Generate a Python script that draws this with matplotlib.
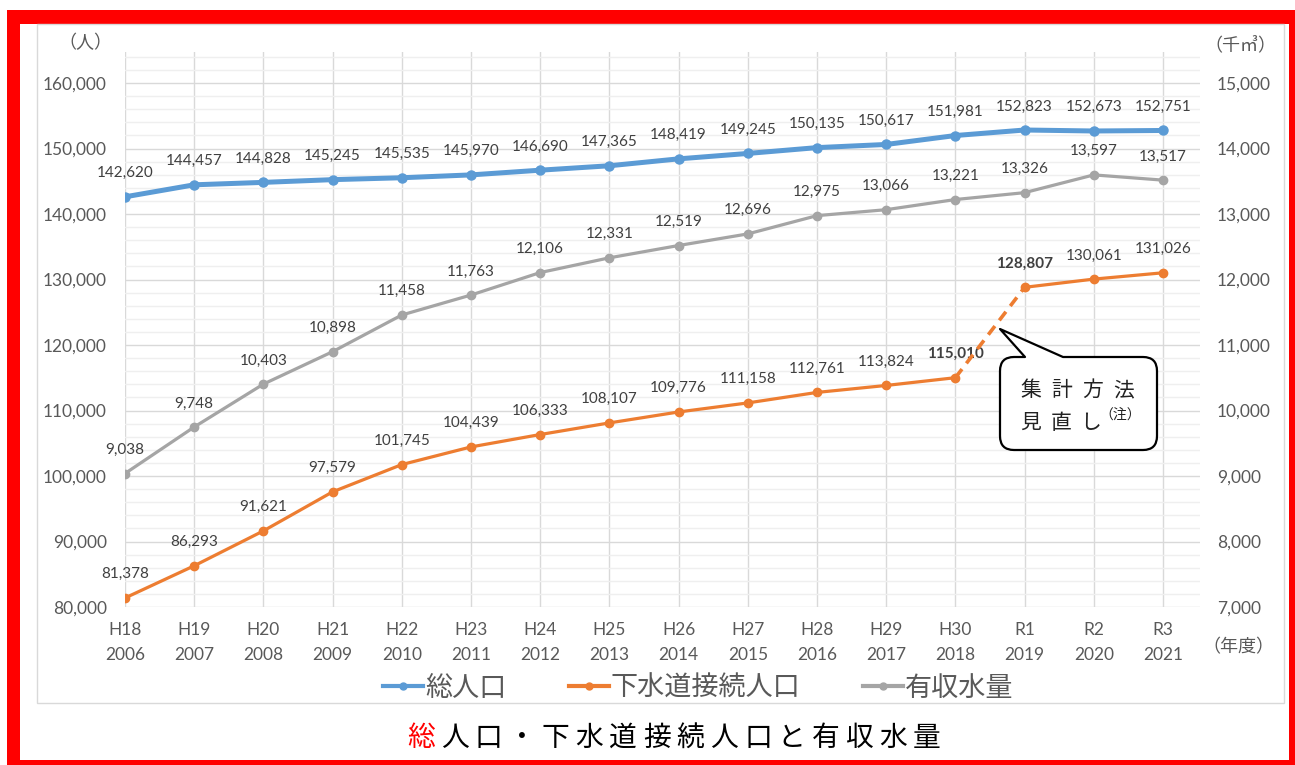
import matplotlib.pyplot as plt
from matplotlib.lines import Line2D
from matplotlib.patches import PathPatch, Rectangle
from matplotlib.path import Path
from matplotlib.ticker import FuncFormatter, MultipleLocator
from matplotlib.transforms import Affine2D

# Fiscal years: Japanese era label and western year
ERA_LABELS = ["H18", "H19", "H20", "H21", "H22", "H23", "H24", "H25",
              "H26", "H27", "H28", "H29", "H30", "R1", "R2", "R3"]
YEARS = [2006, 2007, 2008, 2009, 2010, 2011, 2012, 2013,
         2014, 2015, 2016, 2017, 2018, 2019, 2020, 2021]

# 総人口 (people, left axis)
TOTAL_POP = [142620, 144457, 144828, 145245, 145535, 145970, 146690, 147365,
             148419, 149245, 150135, 150617, 151981, 152823, 152673, 152751]
# 下水道接続人口 (people, left axis)
SEWER_POP = [81378, 86293, 91621, 97579, 101745, 104439, 106333, 108107,
             109776, 111158, 112761, 113824, 115010, 128807, 130061, 131026]
# 有収水量 (thousand m3, right axis)
WATER_VOL = [9038, 9748, 10403, 10898, 11458, 11763, 12106, 12331,
             12519, 12696, 12975, 13066, 13221, 13326, 13597, 13517]

SERIES_NAMES = ["総人口", "下水道接続人口", "有収水量"]
TITLE = "総人口・下水道接続人口と有収水量"
BREAK_INDEX = 12  # counting method changed between H30 and R1

BLUE = "#5B9BD5"
ORANGE = "#ED7D31"
GRAY = "#A5A5A5"
TEXT = "#595959"
LABEL = "#404040"
GRID = "#D9D9D9"
NUM_FONT = "Lato"
JP_FONT = ["Noto Sans CJK JP", "DejaVu Sans"]

W, H = 1295, 765
fig = plt.figure(figsize=(W / 100, H / 100), dpi=100)
fig.patch.set_facecolor("white")
# pixel coordinates, origin top-left
px = Affine2D().scale(1 / W, -1 / H).translate(0, 1) + fig.transFigure

# red frame and chart box
fig.add_artist(Rectangle((7, 10), W, H, transform=px, fc="red", ec="none", zorder=-10))
fig.add_artist(Rectangle((20, 24), 1269, 736, transform=px, fc="white", ec="none", zorder=-9))
fig.add_artist(Rectangle((37, 24), 1247, 679, transform=px, fc="none", ec=GRID,
                         lw=1, zorder=-8))

# plot area
x0, x1, y_top, y_bot = 125, 1200, 52, 607
step = (1163 - 125) / 15
ax = fig.add_axes([x0 / W, 1 - y_bot / H, (x1 - x0) / W, (y_bot - y_top) / H])
ax2 = ax.twinx()

xs = list(range(len(ERA_LABELS)))
ax.set_xlim(0, (x1 - x0) / step)
top_extra = (83 - y_top) / ((y_bot - 83) / 8)
ax.set_ylim(80000, 160000 + top_extra * 10000)
ax2.set_ylim(7000, 15000 + top_extra * 1000)

for a in (ax, ax2):
    for s in a.spines.values():
        s.set_visible(False)
    a.tick_params(length=0, which="both")

ax.yaxis.set_major_locator(MultipleLocator(10000))
ax.yaxis.set_minor_locator(MultipleLocator(2000))
ax2.yaxis.set_major_locator(MultipleLocator(1000))
ax.set_xticks(xs)
ax.grid(True, axis="x", color=GRID, lw=1)
ax.grid(True, axis="y", which="major", color=GRID, lw=1)
ax.grid(True, axis="y", which="minor", color="#EFEFEF", lw=1)
ax.set_axisbelow(True)

comma = FuncFormatter(lambda v, p: f"{v:,.0f}")
ax.yaxis.set_major_formatter(comma)
ax2.yaxis.set_major_formatter(comma)
ax.set_xticklabels([f"{e}\n{y}" for e, y in zip(ERA_LABELS, YEARS)],
                   fontsize=12.5, color=TEXT, family=NUM_FONT, linespacing=1.7)
ax.tick_params(axis="x", pad=11)
ax.tick_params(axis="y", labelsize=12.5, labelcolor=TEXT, pad=13)
ax2.tick_params(axis="y", labelsize=12.5, labelcolor=TEXT, pad=12)
for lab in ax.get_yticklabels() + ax2.get_yticklabels():
    lab.set_family(NUM_FONT)

# series
ax.plot(xs, TOTAL_POP, color=BLUE, lw=3.6, marker="o", ms=6.5, zorder=4)
ax.plot(xs[:BREAK_INDEX + 1], SEWER_POP[:BREAK_INDEX + 1], color=ORANGE, lw=2.3,
        marker="o", ms=6, zorder=4)
ax.plot(xs[BREAK_INDEX:BREAK_INDEX + 2], SEWER_POP[BREAK_INDEX:BREAK_INDEX + 2],
        color=ORANGE, lw=2.6, ls=(0, (3, 2)), zorder=4)
ax.plot(xs[BREAK_INDEX + 1:], SEWER_POP[BREAK_INDEX + 1:], color=ORANGE, lw=2.3,
        marker="o", ms=6, zorder=4)
ax2.plot(xs, WATER_VOL, color=GRAY, lw=2.3, marker="o", ms=6, zorder=4)

# data labels
label_kw = dict(textcoords="offset points", xytext=(0, 17), ha="center", va="center",
                fontsize=11, color=LABEL, family=NUM_FONT)
for x, v in zip(xs, TOTAL_POP):
    ax.annotate(f"{v:,}", (x, v), **label_kw)
for x, v in zip(xs, SEWER_POP):
    bold = x in (BREAK_INDEX, BREAK_INDEX + 1)
    ax.annotate(f"{v:,}", (x, v), fontweight="bold" if bold else "normal", **label_kw)
for x, v in zip(xs, WATER_VOL):
    ax2.annotate(f"{v:,}", (x, v), **label_kw)

# axis units
fig.text(85, 43, "（人）", transform=px, ha="center", va="center", fontsize=13,
         color=TEXT, family=JP_FONT)
fig.text(1240, 46, "（千㎥）", transform=px, ha="center", va="center", fontsize=13,
         color=TEXT, family=JP_FONT)
fig.text(1238, 647, "（年度）", transform=px, ha="center", va="center", fontsize=13,
         color=TEXT, family=JP_FONT)

# callout
L, R, T, B, r = 1000, 1157, 357, 450, 14
verts = [(L + r, T), (1025, T), (1000, 329), (1063, T), (R - r, T),
         (R, T), (R, T + r), (R, B - r), (R, B), (R - r, B), (L + r, B),
         (L, B), (L, B - r), (L, T + r), (L, T), (L + r, T), (L + r, T)]
codes = [Path.MOVETO, Path.LINETO, Path.LINETO, Path.LINETO, Path.LINETO,
         Path.CURVE3, Path.CURVE3, Path.LINETO, Path.CURVE3, Path.CURVE3, Path.LINETO,
         Path.CURVE3, Path.CURVE3, Path.LINETO, Path.CURVE3, Path.CURVE3, Path.CLOSEPOLY]
fig.add_artist(PathPatch(Path(verts, codes), transform=px, fc="white", ec="black",
                         lw=1.6, joinstyle="round", zorder=5))
for i, ch in enumerate("集計方法"):
    fig.text(1031 + i * 31, 390, ch, transform=px, ha="center", va="center",
             fontsize=15, color="#222222", family=JP_FONT, zorder=6)
for i, ch in enumerate("見直し"):
    fig.text(1031 + i * 30, 423, ch, transform=px, ha="center", va="center",
             fontsize=15, color="#222222", family=JP_FONT, zorder=6)
fig.text(1120, 415, "（注）", transform=px, ha="center", va="center",
         fontsize=10, color="#222222", family=JP_FONT, zorder=6)

# legend
handles = [Line2D([], [], color=c, lw=3, marker="o", ms=5) for c in (BLUE, ORANGE, GRAY)]
fig.legend(handles, SERIES_NAMES, loc="center", bbox_to_anchor=(698 / W, 1 - 688 / H),
           ncol=3, frameon=False, prop={"family": JP_FONT, "size": 19.5}, labelcolor=TEXT,
           handlelength=1.5, handletextpad=0.05, columnspacing=2.3)

# title, letter-spaced
for i, ch in enumerate(TITLE):
    fig.text(421 + i * 33.7, 738, ch, transform=px, ha="center", va="center",
             fontsize=20, color="red" if i == 0 else "black", family=JP_FONT)

fig.savefig("out.png", dpi=100, facecolor="white")
